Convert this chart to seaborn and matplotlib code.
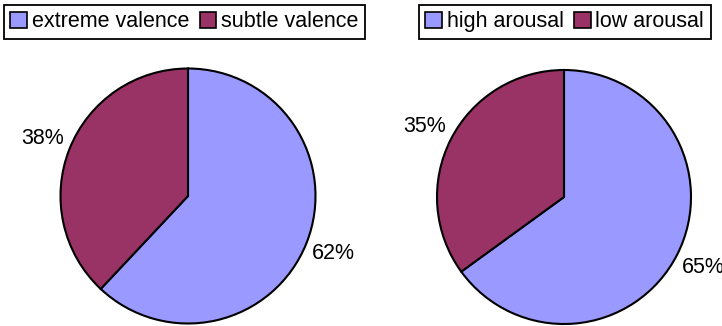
import matplotlib
matplotlib.use("Agg")
import matplotlib.pyplot as plt
from matplotlib.patches import Patch
import seaborn as sns

# Shares of each response type
valence_labels = ["extreme valence", "subtle valence"]
valence_values = [62, 38]
arousal_labels = ["high arousal", "low arousal"]
arousal_values = [65, 35]
slice_colors = ["#9999FF", "#993366"]

sns.set_theme(style="white")
plt.rcParams["font.family"] = ["Liberation Sans", "DejaVu Sans"]
plt.rcParams["text.color"] = "black"
palette = sns.color_palette(slice_colors)

W, H = 722, 326
fig = plt.figure(figsize=(W / 100, H / 100), dpi=100)
fig.patch.set_facecolor("white")


def pie_panel(cx, cy, r, values, labels, legend_x):
    ax = fig.add_axes([(cx - r) / W, (H - cy - r) / H, 2 * r / W, 2 * r / H])
    wedges, _, autotexts = ax.pie(
        values,
        colors=palette,
        startangle=90,
        counterclock=False,
        autopct="%1.0f%%",
        pctdistance=1.23,
        wedgeprops=dict(edgecolor="black", linewidth=1.5),
        textprops=dict(fontsize=15.5, color="black"),
    )
    for t in autotexts:
        t.set_clip_on(False)
    ax.set_xlim(-1, 1)
    ax.set_ylim(-1, 1)
    ax.set_aspect("equal")
    ax.axis("off")

    handles = [Patch(facecolor=c, edgecolor="black", linewidth=1.2) for c in palette]
    leg = fig.legend(
        handles, labels,
        loc="upper left",
        bbox_to_anchor=(legend_x / W, 1 - 5 / H),
        ncol=2,
        fontsize=15.5,
        frameon=True,
        fancybox=False,
        shadow=False,
        handlelength=0.78,
        handleheight=0.78,
        handletextpad=0.2,
        columnspacing=0.5,
        borderpad=0.3,
        borderaxespad=0,
    )
    frame = leg.get_frame()
    frame.set_edgecolor("black")
    frame.set_linewidth(1.3)
    frame.set_alpha(1)
    return ax


pie_panel(188, 196, 127.5, valence_values, valence_labels, 4)
pie_panel(564, 197, 127, arousal_values, arousal_labels, 419)

fig.savefig("out.png", dpi=100, facecolor="white")
